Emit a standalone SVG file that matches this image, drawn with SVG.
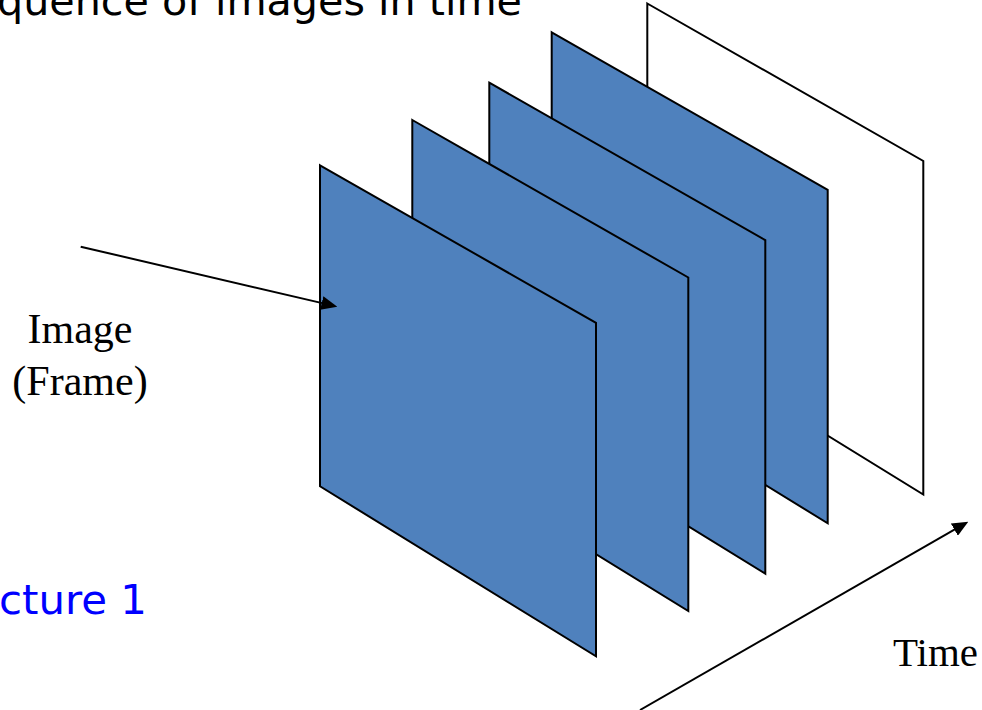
<svg xmlns="http://www.w3.org/2000/svg" width="982" height="710" viewBox="0 0 982 710">
  <style>
    .frame { fill: #4F81BD; stroke: #000; stroke-width: 2; stroke-linejoin: miter; }
    .frame.blank { fill: #FFFFFF; }
    .conn { stroke: #000; stroke-width: 2; fill: none; }
    .sans { font-family: "DejaVu Sans", Verdana, sans-serif; font-size: 40px; }
    .serif { font-family: "Liberation Serif", "Times New Roman", serif; fill: #000; }
  </style>
  <defs>
    <marker id="arrow" markerUnits="userSpaceOnUse" markerWidth="16" markerHeight="14" refX="6" refY="7" orient="auto">
      <path d="M0,0 L16,7 L0,14 z" fill="#000"/>
    </marker>
  </defs>

  <rect width="982" height="710" fill="#FFFFFF"/>

  <!-- headings -->
  <text class="sans" x="-3" y="14.5" textLength="525" lengthAdjust="spacingAndGlyphs" fill="#000">quence of images in time</text>
  <text class="sans" x="-1" y="614" textLength="148" lengthAdjust="spacingAndGlyphs" fill="#0000FF">cture 1</text>

  <!-- frame stack, back to front -->
  <g id="frame5"><polygon class="frame blank" points="647.3,3.5 923.3,161 923.3,494.5 647.3,324.5"/></g>
  <g id="frame4"><polygon class="frame" points="551.7,32.3 827.7,189.8 827.7,523.3 551.7,353.3"/></g>
  <g id="frame3"><polygon class="frame" points="489.3,82.7 765.3,240.2 765.3,573.7 489.3,403.7"/></g>
  <g id="frame2"><polygon class="frame" points="412.3,120 688.3,277.5 688.3,611 412.3,441"/></g>
  <g id="frame1"><polygon class="frame" points="320,165.3 596,322.8 596,656.3 320,486.3"/></g>

  <!-- labels -->
  <g id="image-label">
    <text class="serif" font-size="42" text-anchor="middle" x="80" y="343">Image</text>
    <text class="serif" font-size="42" text-anchor="middle" x="80" y="395">(Frame)</text>
  </g>
  <g id="time-label">
    <text class="serif" font-size="40" x="893" y="666" textLength="85" lengthAdjust="spacingAndGlyphs">Time</text>
  </g>

  <!-- connectors -->
  <g id="connectors">
    <line class="conn" x1="80.7" y1="246.7" x2="327.6" y2="304.4" marker-end="url(#arrow)"/>
    <line class="conn" x1="640" y1="710" x2="959.6" y2="526.7" marker-end="url(#arrow)"/>
  </g>
</svg>
